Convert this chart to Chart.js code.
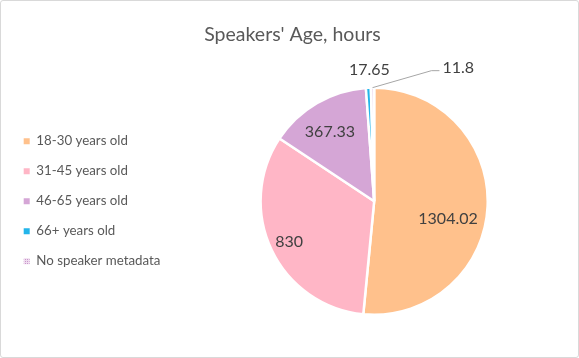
<!DOCTYPE html>
<html><head><meta charset="utf-8">
<script src="https://cdn.jsdelivr.net/npm/chart.js@4/dist/chart.umd.min.js"></script>
<style>
html,body{margin:0;padding:0;background:#fff;}
#wrap{position:relative;width:579px;height:358px;box-sizing:border-box;border:1px solid #d9d9d9;border-radius:3px;background:#fff;}
</style></head>
<body>
<div id="wrap"><canvas id="c"></canvas></div>
<script>
const categories = ['18-30 years old','31-45 years old','46-65 years old','66+ years old','No speaker metadata'];
const hours = [1304.02, 830, 367.33, 17.65, 11.8];
const valueLabels = ['1304.02','830','367.33','17.65','11.8'];
const titleText = "Speakers' Age, hours";

function hatch(){
  const p=document.createElement('canvas');p.width=2;p.height=2;
  const x=p.getContext('2d');
  x.fillStyle='#efdcef';x.fillRect(0,0,2,2);
  x.fillStyle='#c995cb';x.fillRect(0,0,1,1);
  return x.createPattern(p,'repeat');
}
const colors=['#FFC18C','#FFB6C6','#D5A6D6','#23B5EA',hatch()];

const labelCfg=[
  {mode:'in',r:0.66,dx:-1,dy:14},
  {mode:'in',r:0.8,dx:-3,dy:2},
  {mode:'in',r:0.72,dx:-3,dy:1},
  {mode:'out',gap:18,dx:2,dy:0},
  {mode:'out',gap:18,dx:86,dy:-2,leader:true}
];

const labelPlugin={
  id:'sliceLabels',
  afterDatasetsDraw(chart){
    const ctx=chart.ctx;const meta=chart.getDatasetMeta(0);
    ctx.save();
    ctx.font='16px Lato, "Open Sans", sans-serif';
    ctx.fillStyle='#404040';ctx.textAlign='center';ctx.textBaseline='middle';
    meta.data.forEach((arc,i)=>{
      const c=labelCfg[i];const p=arc.getProps(['x','y','startAngle','endAngle','outerRadius']);
      const mid=(p.startAngle+p.endAngle)/2;const R=p.outerRadius;
      let rr = c.mode==='in'? R*c.r : R+c.gap;
      const lx=p.x+Math.cos(mid)*rr+c.dx, ly=p.y+Math.sin(mid)*rr+c.dy;
      if(c.leader){
        const ax=p.x+Math.cos(mid)*R, ay=p.y+Math.sin(mid)*R;
        const w=ctx.measureText(valueLabels[i]).width;
        const ex=lx-w/2-3;
        ctx.strokeStyle='#a6a6a6';ctx.lineWidth=1;
        ctx.beginPath();ctx.moveTo(ax,ay);ctx.lineTo(ex-8,ly+3);ctx.lineTo(ex,ly+3);ctx.stroke();
      }
      ctx.fillText(valueLabels[i],lx,ly);
    });
    ctx.restore();
  }
};

const baseGen=Chart.overrides.pie.plugins.legend.labels.generateLabels;
new Chart(document.getElementById('c'),{
  type:'pie',
  data:{labels:categories,datasets:[{data:hours,backgroundColor:colors,borderColor:'#ffffff',borderWidth:2.5}]},
  options:{
    responsive:true,maintainAspectRatio:false,animation:false,
    layout:{padding:{top:10,bottom:41,left:6,right:0}},
    plugins:{
      title:{display:true,text:titleText,color:'#595959',font:{family:'Lato, "Open Sans", sans-serif',size:19.5,weight:'normal'},padding:{top:12,bottom:40}},
      legend:{position:'left',fullSize:false,labels:{
        boxWidth:6,boxHeight:6,padding:16.7,color:'#595959',
        font:{family:'Lato, "Open Sans", sans-serif',size:13.3},
        generateLabels(chart){return baseGen(chart).map(l=>Object.assign(l,{lineWidth:0,strokeStyle:'rgba(0,0,0,0)'}));}
      }},
      tooltip:{enabled:false}
    }
  },
  plugins:[labelPlugin]
});
</script>
</body></html>
